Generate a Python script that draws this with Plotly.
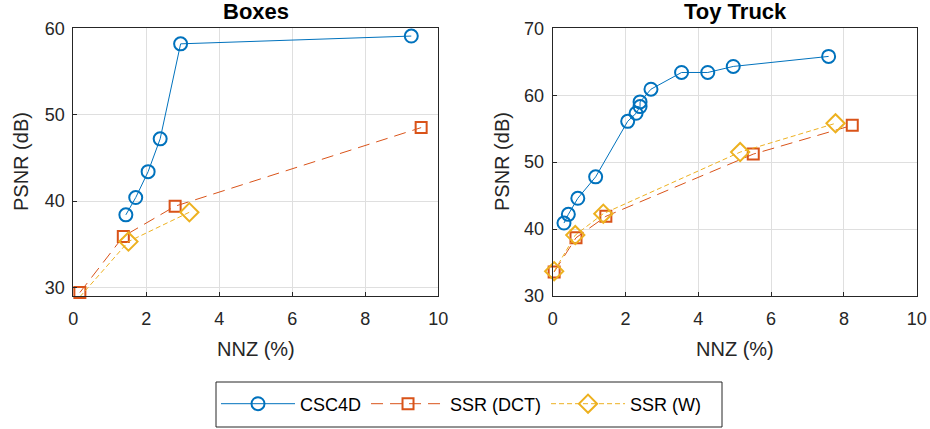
import plotly.graph_objects as go

# Boxes
box_csc_x = [1.44, 1.71, 2.05, 2.38, 2.94, 9.26]
box_csc_y = [38.4, 40.4, 43.4, 47.2, 58.2, 59.1]
box_dct_x = [0.18, 1.37, 2.79, 9.53]
box_dct_y = [29.4, 35.9, 39.4, 48.5]
box_w_x = [0.18, 1.51, 3.18]
box_w_y = [28.9, 35.3, 38.7]

# Toy Truck
toy_csc_x = [0.31, 0.43, 0.69, 1.18, 2.06, 2.29, 2.40, 2.40, 2.70, 3.54, 4.26, 4.96, 7.58]
toy_csc_y = [40.9, 42.2, 44.6, 47.8, 56.1, 57.3, 58.3, 59.0, 60.9, 63.4, 63.4, 64.3, 65.8]
toy_dct_x = [0.04, 0.64, 1.46, 5.51, 8.23]
toy_dct_y = [33.6, 38.7, 41.9, 51.2, 55.5]
toy_w_x = [0.04, 0.62, 1.39, 5.15, 7.77]
toy_w_y = [33.7, 39.1, 42.3, 51.5, 55.8]

names = ["CSC4D", "SSR (DCT)", "SSR (W)"]
colors = ["#0072BD", "#D95319", "#EDB120"]
symbols = ["circle-open", "square-open", "diamond-open"]
sizes = [13, 11, 14]
dashes = ["solid", "12px,7px", "5px,3px"]
titles = ["Boxes", "Toy Truck"]
xlabel = "NNZ (%)"
ylabel = "PSNR (dB)"

FONT = "Liberation Sans, Arial, Helvetica"
W, H = 930, 429
fig = go.Figure()

series = [
    ("x", "y", [(box_csc_x, box_csc_y), (box_dct_x, box_dct_y), (box_w_x, box_w_y)], True),
    ("x2", "y2", [(toy_csc_x, toy_csc_y), (toy_dct_x, toy_dct_y), (toy_w_x, toy_w_y)], False),
]
for xa, ya, data, show in series:
    for i, (xs, ys) in enumerate(data):
        fig.add_trace(go.Scatter(
            x=xs, y=ys, xaxis=xa, yaxis=ya, mode="lines+markers", name=names[i],
            showlegend=show, cliponaxis=False,
            line=dict(color=colors[i], width=1, dash=dashes[i]),
            marker=dict(symbol=symbols[i], size=sizes[i], color=colors[i],
                        line=dict(color=colors[i], width=2)),
        ))

axis_common = dict(
    showline=True, mirror=True, linecolor="#262626", linewidth=1,
    showgrid=True, gridcolor="#DFDFDF", gridwidth=1, zeroline=False,
    ticks="inside", ticklen=4, tickcolor="#262626", automargin=False,
    tickfont=dict(family=FONT, size=18, color="#262626"),
)

def px(x):
    return x / W

def py(y):
    return 1 - y / H

fig.update_layout(
    width=W, height=H, margin=dict(l=0, r=0, t=0, b=0, autoexpand=False),
    paper_bgcolor="white", plot_bgcolor="white",
    font=dict(family=FONT, color="#262626"),
    xaxis=dict(domain=[px(73.3), px(438.3)], range=[0, 10], dtick=2, anchor="y",
               ticklabelstandoff=6, **axis_common),
    yaxis=dict(domain=[py(296), py(28.3)], range=[29, 60], tickvals=[30, 40, 50, 60], anchor="x",
               ticklabelstandoff=4, **axis_common),
    xaxis2=dict(domain=[px(552.7), px(916.7)], range=[0, 10], dtick=2, anchor="y2",
                ticklabelstandoff=6, **axis_common),
    yaxis2=dict(domain=[py(296), py(28.3)], range=[30, 70], dtick=10, anchor="x2",
                ticklabelstandoff=4, **axis_common),
    legend=dict(orientation="h", x=px(216), y=py(404), xanchor="left", yanchor="middle",
                borderwidth=0, bgcolor="rgba(0,0,0,0)",
                font=dict(family=FONT, size=18, color="black"), itemwidth=74),
    shapes=[
        dict(type="rect", xref="paper", yref="paper",
             x0=px(216), x1=px(722), y0=py(427), y1=py(382),
             line=dict(color="#262626", width=1), fillcolor="white", layer="below"),
    ],
    annotations=[
        dict(text="<b>%s</b>" % titles[0], x=px(255.5), y=py(11), xref="paper", yref="paper",
             xanchor="center", yanchor="middle", showarrow=False,
             font=dict(family=FONT, size=22, color="black")),
        dict(text="<b>%s</b>" % titles[1], x=px(735.5), y=py(11), xref="paper", yref="paper",
             xanchor="center", yanchor="middle", showarrow=False,
             font=dict(family=FONT, size=22, color="black")),
        dict(text=xlabel, x=px(255.8), y=py(349), xref="paper", yref="paper",
             xanchor="center", yanchor="middle", showarrow=False,
             font=dict(family=FONT, size=20, color="#262626")),
        dict(text=xlabel, x=px(734.7), y=py(349), xref="paper", yref="paper",
             xanchor="center", yanchor="middle", showarrow=False,
             font=dict(family=FONT, size=20, color="#262626")),
        dict(text=ylabel, x=px(21), y=py(162), xref="paper", yref="paper", textangle=-90,
             xanchor="center", yanchor="middle", showarrow=False,
             font=dict(family=FONT, size=20, color="#262626")),
        dict(text=ylabel, x=px(502), y=py(162), xref="paper", yref="paper", textangle=-90,
             xanchor="center", yanchor="middle", showarrow=False,
             font=dict(family=FONT, size=20, color="#262626")),
    ],
)
fig.write_html("out.html", config={"displayModeBar": False},
               post_script="document.body.style.margin='0';document.body.style.overflow='hidden';")
